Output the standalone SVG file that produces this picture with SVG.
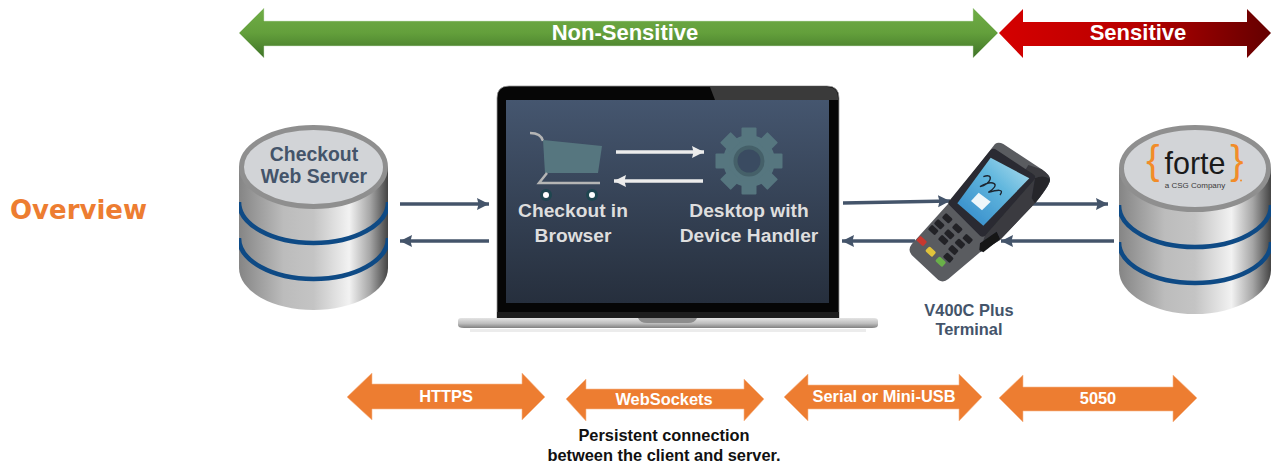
<svg xmlns="http://www.w3.org/2000/svg" xmlns:xlink="http://www.w3.org/1999/xlink" width="1276" height="468" viewBox="0 0 1276 468">
<style>
text{font-family:"Liberation Sans",Arial,sans-serif;font-weight:700;text-anchor:middle}
.w{fill:#fff}.b{fill:#44546a}.s{fill:#dedede;font-size:19.200px}
.o{fill:#ed7d31;stroke:#f6b88e;stroke-width:.6}
.ol{fill:#fff;font-size:16.400px}
.k{font-size:16.400px;fill:#111}
.c{fill:none;stroke:#44546a;stroke-width:3.500}
.cw{fill:none;stroke:#ececec;stroke-width:3.500}
.band{fill:none;stroke:#0e4a85;stroke-width:4.500}
.lg{font-weight:400}
</style>
<defs>
<linearGradient id="g" x1="0" y1="0" x2="0" y2="1"><stop offset="0" stop-color="#70ad47"/><stop offset=".5" stop-color="#639f3b"/><stop offset="1" stop-color="#3f7328"/></linearGradient>
<linearGradient id="r" x1="0" y1="0" x2="1" y2="0"><stop offset="0" stop-color="#d50000"/><stop offset=".5" stop-color="#b80000"/><stop offset="1" stop-color="#640000"/></linearGradient>
<linearGradient id="cyl" x1="0" y1="0" x2="1" y2="0"><stop offset="0" stop-color="#858585"/><stop offset=".3" stop-color="#bcbcbc"/><stop offset=".5" stop-color="#c4c4c4"/><stop offset=".74" stop-color="#f2f2f2"/><stop offset=".88" stop-color="#a6a6a6"/><stop offset="1" stop-color="#444"/></linearGradient>
<linearGradient id="scr" x1="0" y1="0" x2="0" y2="1"><stop offset="0" stop-color="#45566f"/><stop offset="1" stop-color="#262f3d"/></linearGradient>
<linearGradient id="base" x1="0" y1="0" x2="0" y2="1"><stop offset="0" stop-color="#e4e4e4"/><stop offset=".55" stop-color="#bdbdbd"/><stop offset="1" stop-color="#808080"/></linearGradient>
<linearGradient id="tsc" x1="0" y1="1" x2="1" y2="0"><stop offset="0" stop-color="#2f86c8"/><stop offset=".6" stop-color="#63b8de"/><stop offset="1" stop-color="#b5e0ee"/></linearGradient>
<clipPath id="cl"><rect x="239" y="120" width="149" height="200"/></clipPath>
<clipPath id="cr"><rect x="1119" y="120" width="152" height="200"/></clipPath>
<filter id="soft" x="-5%" y="-5%" width="110%" height="110%"><feGaussianBlur stdDeviation="1.200"/></filter>
<marker id="a" markerUnits="userSpaceOnUse" markerWidth="13" markerHeight="13" refX="12" refY="6.500" orient="auto"><path d="M0 .5L12 6.500L0 12.500L1.500 6.500Z" fill="#44546a"/></marker>
<marker id="aw" markerUnits="userSpaceOnUse" markerWidth="13" markerHeight="13" refX="12" refY="6.500" orient="auto"><path d="M0 .5L12 6.500L0 12.500L1.500 6.500Z" fill="#ececec"/></marker>
<rect id="tooth" x="-7.500" y="-33.500" width="15" height="14" rx="1"/>
<rect id="kp" x="-14" y="-9.500" width="28" height="19" rx="4" transform="rotate(43)"/>
</defs>

<g id="zone-non-sensitive">
<path d="M239 33L264 8V21H973V8L998 33L973 58V46H264V58Z" fill="url(#g)" stroke="#cfe0c4" stroke-width=".5"/>
<text x="625" y="40" class="w" font-size="22">Non-Sensitive</text>
</g>
<g id="zone-sensitive">
<path d="M999 33L1023 9V22H1247V9L1271 33L1247 58V46H1023V58Z" fill="url(#r)"/>
<text x="1138" y="40" class="w" font-size="22">Sensitive</text>
</g>

<text id="title" x="78.500" y="219" font-size="26" fill="#ed7d31" style="font-family:'DejaVu Sans',Verdana,sans-serif">Overview</text>

<g id="checkout-web-server">
<path d="M239 167V268A74.500 42 0 0 0 388 268V167Z" fill="url(#cyl)"/>
<g clip-path="url(#cl)">
<path class="band" d="M239 202A74.500 41 0 0 0 388 202"/>
<path class="band" d="M239 238A74.500 41 0 0 0 388 238"/>
</g>
<ellipse cx="313.500" cy="167" rx="72" ry="39.500" fill="#d2d4d7" stroke="#8f8f8f" stroke-width="5"/>
<text x="314" y="161" class="b" font-size="19.400">Checkout</text>
<text x="314" y="183" class="b" font-size="19.400">Web Server</text>
</g>

<g id="laptop">
<path d="M497 318V98Q497 86 509 86H827Q839 86 839 98V318Z" fill="#060606" stroke="#9a9a9a" stroke-width=".8"/>
<path d="M710 87H827Q838 87 838 98V100H715Z" fill="#3a3a3a"/>
<rect x="506" y="100" width="323" height="203" fill="url(#scr)"/>
<rect x="497" y="312" width="342" height="6" fill="#1d1d1d"/>
<path d="M461 318H874Q878 318 878 321V325Q878 328 872 328H464Q458 328 458 325V321Q458 318 461 318Z" fill="url(#base)"/>
<path d="M638 318H697Q695 323 688 323H647Q640 323 638 318Z" fill="#8d8d8d"/>
<rect x="470" y="329" width="396" height="3" fill="#ececec"/>
</g>

<g id="checkout-in-browser">
<path d="M530 133Q541 133 543 141" fill="none" stroke="#b5b5b5" stroke-width="2.500"/>
<path d="M543 140L602 146L598 173H545Z" fill="#56767f"/>
<path d="M547 173L539 183H600" fill="none" stroke="#b5b5b5" stroke-width="2.500"/>
<circle cx="546" cy="195" r="6" fill="#1f4650"/><circle cx="546" cy="195" r="3" fill="#fff"/>
<circle cx="592" cy="195" r="6" fill="#1f4650"/><circle cx="592" cy="195" r="3" fill="#fff"/>
<text x="573" y="217" class="s">Checkout in</text>
<text x="573" y="242" class="s">Browser</text>
</g>

<g id="desktop-device-handler">
<g transform="translate(749 161)" fill="#56767f">
<circle r="26"/>
<use xlink:href="#tooth" href="#tooth"/>
<use xlink:href="#tooth" href="#tooth" transform="rotate(45)"/>
<use xlink:href="#tooth" href="#tooth" transform="rotate(90)"/>
<use xlink:href="#tooth" href="#tooth" transform="rotate(135)"/>
<use xlink:href="#tooth" href="#tooth" transform="rotate(180)"/>
<use xlink:href="#tooth" href="#tooth" transform="rotate(225)"/>
<use xlink:href="#tooth" href="#tooth" transform="rotate(270)"/>
<use xlink:href="#tooth" href="#tooth" transform="rotate(315)"/>
<circle r="15.500" fill="#456069"/>
<circle r="11.500" fill="#3a4b61"/>
</g>
<text x="749" y="217" class="s">Desktop with</text>
<text x="749" y="242" class="s">Device Handler</text>
</g>

<g id="connectors">
<path class="c" d="M400 204H489" marker-end="url(#a)"/>
<path class="c" d="M489 241H400" marker-end="url(#a)"/>
<path class="c" d="M843 203L950 201" marker-end="url(#a)"/>
<path class="c" d="M915 241H842" marker-end="url(#a)"/>
<path class="c" d="M1033 204H1108" marker-end="url(#a)"/>
<path class="c" d="M1114 241H1001" marker-end="url(#a)"/>
<path class="cw" d="M616 152H704" marker-end="url(#aw)"/>
<path class="cw" d="M703 181H614" marker-end="url(#aw)"/>
</g>

<g id="terminal">
<g transform="translate(900 135) scale(.33333)" filter="url(#soft)">
<path d="M285 27Q295 20 310 27L425 103Q452 122 450 135Q450 150 405 205L300 315L240 352L145 432Q130 445 115 435L35 360Q22 345 35 328L150 200Z" fill="#5a5b61"/>
<path d="M405 205Q450 150 450 135Q452 122 425 103L385 90L255 300L240 352L300 315Z" fill="#3a3b40"/>
<path d="M405 130Q430 118 450 132Q448 150 405 205L395 190Z" fill="#26272b"/>
<path d="M300 312L250 352L238 345L240 325L290 290Z" fill="#141517"/>
<path d="M272 45Q280 38 290 45L400 118Q410 125 402 135L255 302Q248 308 240 302L148 210Q142 204 148 197Z" fill="#2a2b30"/>
<path d="M272 68L388 130L250 272L172 205Z" fill="url(#tsc)"/>
<path d="M250 125C285 112 272 150 240 155C280 132 305 148 265 172C290 165 315 160 300 180" fill="none" stroke="#1d2530" stroke-width="4"/>
<path d="M236 173L272 200L246 226L213 198Z" fill="#eef6fa"/>
<g fill="#222428">
<use xlink:href="#kp" href="#kp" x="142" y="250"/><use xlink:href="#kp" href="#kp" x="172" y="280"/><use xlink:href="#kp" href="#kp" x="203" y="312"/>
<use xlink:href="#kp" href="#kp" x="118" y="268"/><use xlink:href="#kp" href="#kp" x="148" y="298"/><use xlink:href="#kp" href="#kp" x="180" y="326"/>
<use xlink:href="#kp" href="#kp" x="100" y="285"/><use xlink:href="#kp" href="#kp" x="130" y="315"/><use xlink:href="#kp" href="#kp" x="160" y="345"/>
<use xlink:href="#kp" href="#kp" x="145" y="368"/>
<use xlink:href="#kp" href="#kp" x="65" y="318" fill="#c8372f"/>
<use xlink:href="#kp" href="#kp" x="92" y="350" fill="#e0c33a"/>
<use xlink:href="#kp" href="#kp" x="122" y="380" fill="#6ab04a"/>
</g>
</g>
<text x="969" y="315.500" class="b" font-size="16.400">V400C Plus</text>
<text x="969" y="335" class="b" font-size="16.400">Terminal</text>
</g>

<g id="forte-server">
<path d="M1119 168V270A76 44 0 0 0 1271 270V168Z" fill="url(#cyl)"/>
<g clip-path="url(#cr)">
<path class="band" d="M1119 205A76 42 0 0 0 1271 205"/>
<path class="band" d="M1119 242A76 41 0 0 0 1271 242"/>
</g>
<ellipse cx="1195" cy="168.500" rx="73.500" ry="41" fill="#d2d4d7" stroke="#8f8f8f" stroke-width="5"/>
<text x="1195" y="174" font-size="30.500" fill="#1a1a1a" class="lg">forte</text>
<text x="1153" y="173.500" font-size="40" fill="#f28c28" class="lg">{</text>
<text x="1237" y="173.500" font-size="40" fill="#f28c28" class="lg">}</text>
<circle cx="1241" cy="180.500" r="1" fill="#f28c28"/>
<text x="1195" y="188" font-size="8" fill="#3a3a3a" class="lg">a CSG Company</text>
</g>

<g id="link-https">
<path class="o" d="M347 397L372 373V384H522V373L545 397L522 420V409H372V420Z"/>
<text x="446" y="402" class="ol">HTTPS</text>
</g>
<g id="link-websockets">
<path class="o" d="M566 399L586 379V389H744V379L764 399L744 421V409H586V421Z"/>
<text x="664" y="405" class="ol">WebSockets</text>
<text x="664" y="441" class="k">Persistent connection</text>
<text x="664" y="461" class="k">between the client and server.</text>
</g>
<g id="link-serial">
<path class="o" d="M784 397L808 374V385H959V374L982 397L959 421V409H808V421Z"/>
<text x="884" y="402" class="ol">Serial or Mini-USB</text>
</g>
<g id="link-5050">
<path class="o" d="M999 398L1023 375V387H1173V375L1197 398L1173 422V411H1023V422Z"/>
<text x="1098" y="404" class="ol">5050</text>
</g>
</svg>
